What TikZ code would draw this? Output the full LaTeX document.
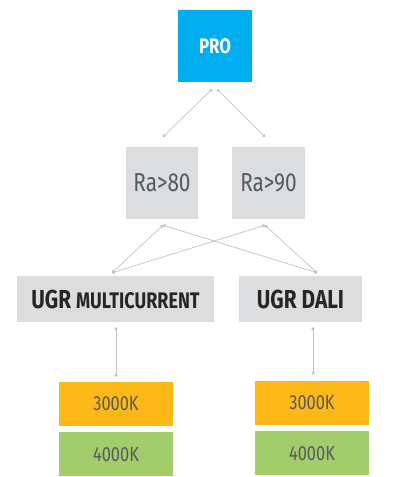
\documentclass[tikz,border=0pt]{standalone}
\usepackage{fontspec}
\setmainfont[FakeStretch=0.8]{Fira Sans}
\usepackage{tikz}
\usetikzlibrary{arrows.meta, positioning}
\definecolor{problue}{HTML}{00AEEF}
\definecolor{boxgray}{HTML}{DCDDDE}
\definecolor{warmorange}{HTML}{FBB817}
\definecolor{coolgreen}{HTML}{A3CD6A}
\definecolor{textgray}{HTML}{58595B}
\definecolor{linkgray}{HTML}{C2C3C5}

\begin{document}
\begin{tikzpicture}[
      x=1pt, y=-1pt,
      node distance=6pt,
      box/.style={rectangle, inner sep=0pt, text=textgray},
      rabox/.style={box, fill=boxgray, minimum width=72pt, minimum height=72pt, font=\fontsize{26}{26}\selectfont},
      ugrbox/.style={box, fill=boxgray, minimum height=46pt, text=black!85, font=\bfseries\fontsize{26}{26}\selectfont},
      tempbox/.style={box, minimum width=114pt, minimum height=44pt, font=\fontsize{20.5}{20.5}\selectfont},
      link/.style={{Circle[length=3.2pt]}-{Circle[length=3.2pt]}, line width=0.7pt, linkgray}
    ]
      \useasboundingbox (0,0) rectangle (392,477);
      % top
      \node[box, fill=problue, minimum width=74pt, minimum height=72pt, text=white,
            font=\bfseries\fontsize{21}{21}\selectfont] (pro) at (215,46) {PRO};
      % colour rendering
      \node[rabox] (ra80) at (162,183) {Ra>80};
      \node[rabox, minimum width=73pt] (ra90) at (268.5,183) {Ra>90};
      % control
      \node[ugrbox, minimum width=197pt] (multi) at (115.5,299) {UGR {\fontsize{22.5}{22.5}\selectfont MULTICURRENT}};
      \node[ugrbox, minimum width=123pt] (dali) at (300.5,299) {UGR DALI};
      % colour temperature
      \node[tempbox, fill=warmorange] (multi3k) at (116,404) {3000K};
      \node[tempbox, fill=coolgreen, below=of multi3k] (multi4k) {4000K};
      \node[tempbox, fill=warmorange] (dali3k) at (312,403) {3000K};
      \node[tempbox, fill=coolgreen, below=of dali3k] (dali4k) {4000K};

      \draw[link] ([shift={(-3,7)}]pro.south) -- ([shift={(1,-10)}]ra80.north);
      \draw[link] ([shift={(2,7)}]pro.south) -- ([shift={(-3.5,-10)}]ra90.north);
      \draw[link] ([shift={(1,6)}]ra80.south) -- ([shift={(-3.5,-3)}]multi.north);
      \draw[link] ([shift={(1,6)}]ra80.south) -- ([shift={(16.5,-3)}]dali.north);
      \draw[link] ([shift={(-3.5,6)}]ra90.south) -- ([shift={(-3.5,-3)}]multi.north);
      \draw[link] ([shift={(-3.5,6)}]ra90.south) -- ([shift={(16.5,-3)}]dali.north);
      \draw[link] ([shift={(0.5,5)}]multi.south) -- ([shift={(0,-5)}]multi3k.north);
      \draw[link] ([shift={(12.5,5)}]dali.south) -- ([shift={(1,-6)}]dali3k.north);
    \end{tikzpicture}
\end{document}
